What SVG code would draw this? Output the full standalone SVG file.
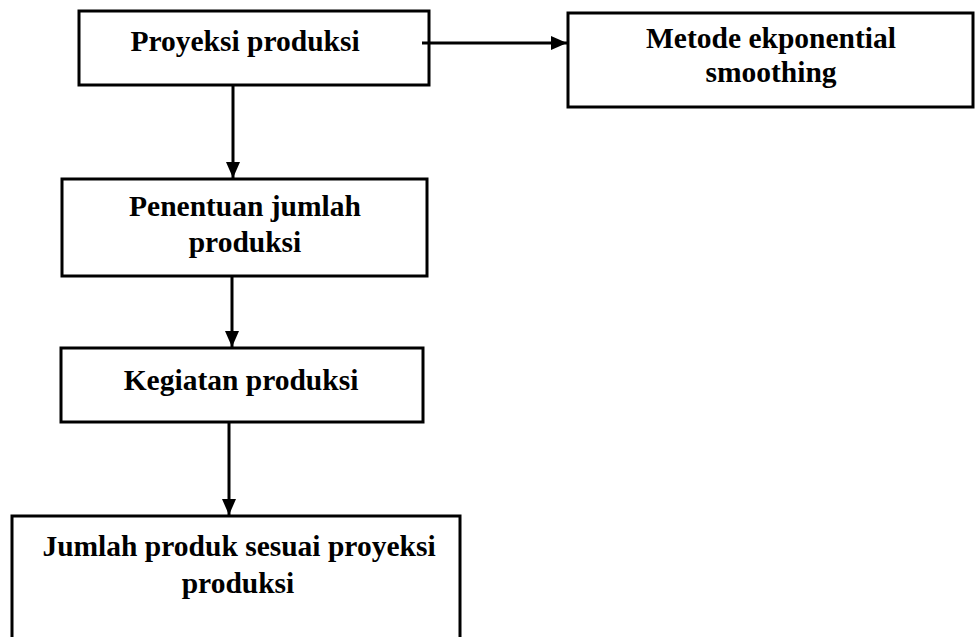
<svg xmlns="http://www.w3.org/2000/svg" width="975" height="637" viewBox="0 0 975 637">
<defs>
<style>
.box{fill:#fff;stroke:#000;stroke-width:3}
.t{font-family:"Liberation Serif","Times New Roman",serif;font-size:29.5px;font-weight:bold;text-anchor:middle;fill:#000}
.c{stroke:#000;stroke-width:3;fill:none}
</style>
<marker id="ah" markerWidth="16" markerHeight="14" refX="16" refY="7" orient="auto" markerUnits="userSpaceOnUse" viewBox="0 0 16 14">
<path d="M0,0 L16,7 L0,14 Z" fill="#000"/>
</marker>
</defs>
<rect width="975" height="637" fill="#fff"/>
<g id="n1"><rect class="box" x="79" y="11" width="350" height="74"/><text class="t" x="245" y="51">Proyeksi produksi</text></g>
<g id="n2"><rect class="box" x="568" y="13" width="405" height="94"/><text class="t" x="771" y="48">Metode ekponential</text><text class="t" x="771" y="82">smoothing</text></g>
<g id="n3"><rect class="box" x="62" y="179" width="365" height="97"/><text class="t" x="245" y="216">Penentuan jumlah</text><text class="t" x="245" y="252">produksi</text></g>
<g id="n4"><rect class="box" x="61" y="348" width="362" height="74"/><text class="t" x="241" y="390">Kegiatan produksi</text></g>
<g id="n5"><rect class="box" x="12" y="516" width="448" height="130"/><text class="t" x="239" y="556">Jumlah produk sesuai proyeksi</text><text class="t" x="238" y="593">produksi</text></g>
<g id="connectors">
<line class="c" x1="422" y1="43" x2="567" y2="43" marker-end="url(#ah)"/>
<line class="c" x1="233" y1="85" x2="233" y2="178" marker-end="url(#ah)"/>
<line class="c" x1="232" y1="276" x2="232" y2="347" marker-end="url(#ah)"/>
<line class="c" x1="229" y1="422" x2="229" y2="515" marker-end="url(#ah)"/>
</g>
</svg>
